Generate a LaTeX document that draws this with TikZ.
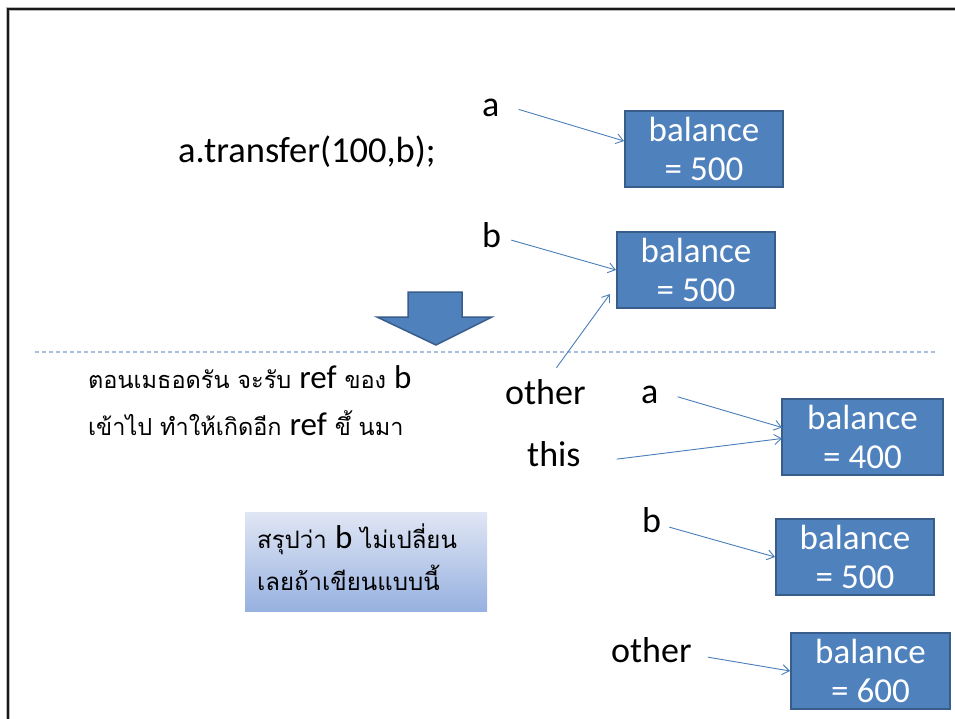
\documentclass[tikz,border=0pt]{standalone}
\usepackage{fontspec}
\setmainfont{Carlito}
\newfontfamily\latfont{Carlito}
\newfontfamily\thaifont[Script=Thai]{Loma}
\usetikzlibrary{arrows.meta,calc}
\definecolor{boxfill}{HTML}{4F81BD}
\definecolor{boxline}{HTML}{385D8A}
\definecolor{ptrline}{HTML}{4A7EBB}
\definecolor{sepline}{HTML}{A7BFDE}
\definecolor{notetop}{HTML}{E0E6F4}
\definecolor{notebot}{HTML}{97B1E0}
\begin{document}
\begin{tikzpicture}[x=1pt,y=-1pt,
  obj/.style={draw=boxline, line width=2pt, fill=boxfill, text=white,
    font=\fontsize{35}{39}\selectfont, align=center,
    minimum width=158pt, minimum height=76pt, inner sep=0pt, anchor=north west},
  var/.style={font=\fontsize{36}{40}\selectfont, inner sep=0pt, anchor=base west},
  thailine/.style={inner sep=0pt, anchor=base west},
  ptr/.style={draw=ptrline, line width=0.9pt, -{Straight Barb[length=7pt,width=10pt]}},
]
\useasboundingbox (0,0) rectangle (955,718);
\fill[white] (0,0) rectangle (955,718);

% slide frame
\draw[gray!55, line width=4pt] (7.5,720) -- (7.5,8.5) -- (957,8.5);
\draw[black!90, line width=2pt] (7.5,720) -- (7.5,8.5) -- (957,8.5);

% separator
\coordinate (sepL) at (35,352);
\coordinate (sepR) at (935,352);
\draw[sepline, line width=1.2pt, dash pattern=on 4pt off 3pt] (sepL) -- (sepR);

% block arrow
\draw[boxline, fill=boxfill, line width=1.5pt, line join=miter]
  (408,292) -- (462,292) -- (462,317) -- (492,317) -- (436,345)
  -- (377,317) -- (408,317) -- cycle;

% call
\node[var, font=\fontsize{36.5}{40}\selectfont] (call) at (178,162) {a.transfer(100,b);};

% objects
\node[obj] (o1) at (624,110) {balance\\= 500};
\node[obj] (o2) at (616,231) {balance\\= 500};
\node[obj, minimum width=161pt] (o3) at (781,398) {balance\\= 400};
\node[obj] (o4) at (775,518) {balance\\= 500};
\node[obj, minimum width=159pt] (o5) at (790,632) {balance\\= 600};

% variables
\node[var] (va1) at (482,116) {a};
\node[var] (vb1) at (482,247) {b};
\node[var] (voth) at (505,404) {other};
\node[var] (vthis) at (527,466) {this};
\node[var] (va2) at (641,403) {a};
\node[var] (vb2) at (642,532) {b};
\node[var] (voth2) at (611,662) {other};

% references
\draw[ptr] ($(va1.east)+(19,2)$) -- ($(o1.west)+(0,-8)$);
\draw[ptr] ($(vb1.east)+(10,5.5)$) -- (o2.west);
\draw[ptr] ($(voth.north)+(11,-11)$) -- ($(o2.south west)+(-6,-15)$);
\draw[ptr] ($(va2.east)+(19,2.4)$) -- ($(o3.west)+(1,-9.5)$);
\draw[ptr] ($(vthis.east)+(36,5.5)$) -- ($(o3.west)+(1,1.5)$);
\draw[ptr] ($(vb2.east)+(8,7.5)$) -- (o4.west);
\draw[ptr] ($(voth2.east)+(16,7.5)$) -- (o5.west);

% explanation
\node[thailine] (ex1) at (88,388)
  {\thaifont\fontsize{23.5}{28}\selectfont ตอนเมธอดรัน จะรับ {\latfont\fontsize{33}{34}\selectfont ref} ของ {\latfont\fontsize{33}{34}\selectfont b}};
\node[thailine] (ex2) at (88,435)
  {\thaifont\fontsize{23.5}{28}\selectfont เข้าไป ทำให้เกิดอีก {\latfont\fontsize{33}{34}\selectfont ref} ขึ้ นมา};

% summary note
\node[inner sep=0pt, minimum width=242pt, minimum height=99pt, anchor=north west,
  top color=notetop, bottom color=notebot] (note) at (245,512) {};
\node[thailine] (nt1) at (257,548)
  {\thaifont\fontsize{24}{30}\selectfont สรุปว่า {\latfont\fontsize{33}{36}\selectfont b} ไม่เปลี่ยน};
\node[thailine] (nt2) at (257,590)
  {\thaifont\fontsize{24}{30}\selectfont เลยถ้าเขียนแบบนี้};
\end{tikzpicture}
\end{document}
